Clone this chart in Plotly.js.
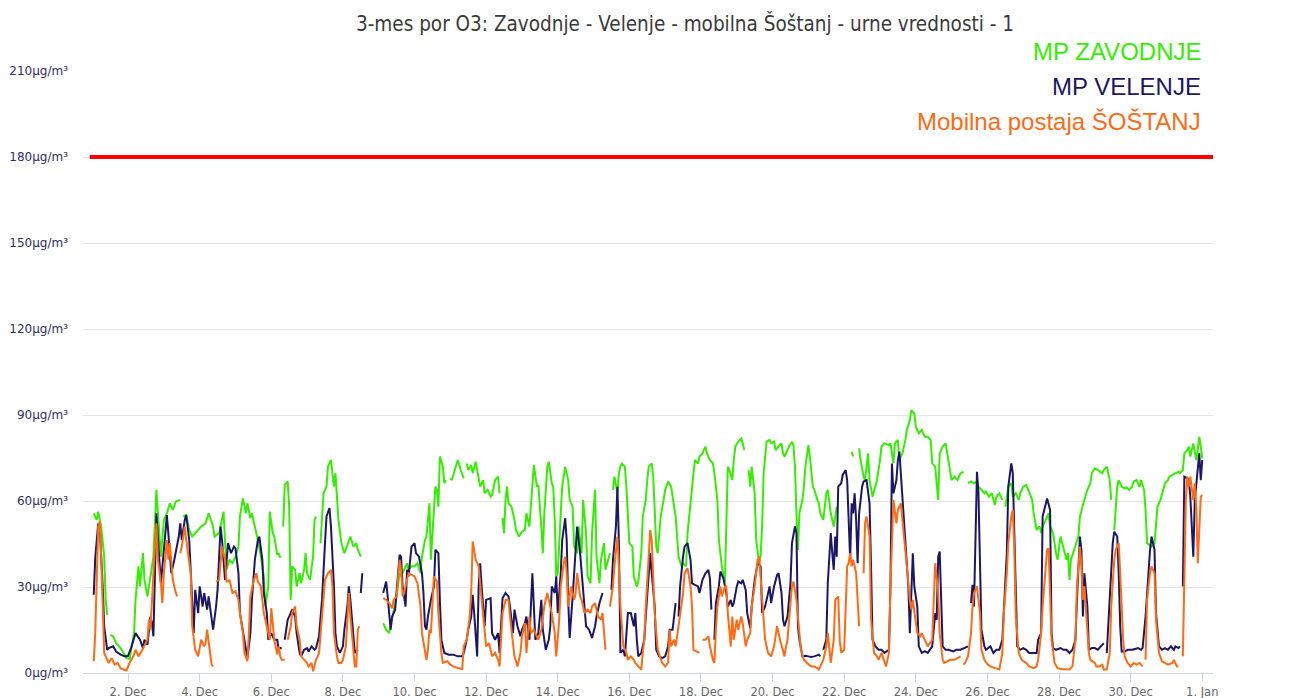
<!DOCTYPE html>
<html>
<head>
<meta charset="utf-8">
<script src="https://cdn.plot.ly/plotly-3.0.1.min.js"></script>
<style>html,body{margin:0;padding:0;background:#fff;}#chart{width:1290px;height:698px;}</style>
</head>
<body>
<div id="chart"></div>
<script>
// ---- data (hour offset from 1 Dec 00:00, hourly O3 value in µg/m³; null = missing) ----
const titleText = "3-mes por O3: Zavodnje - Velenje - mobilna Šoštanj - urne vrednosti - 1";
const seriesNames = ["MP ZAVODNJE", "MP VELENJE", "Mobilna postaja ŠOŠTANJ"];
const limitValue = 180;
const yTickValues = [0, 30, 60, 90, 120, 150, 180, 210];
const tickDays = [2, 4, 6, 8, 10, 12, 14, 16, 18, 20, 22, 24, 26, 28, 30, 32];
const tickLabels = ["2. Dec", "4. Dec", "6. Dec", "8. Dec", "10. Dec", "12. Dec", "14. Dec", "16. Dec", "18. Dec", "20. Dec", "22. Dec", "24. Dec", "26. Dec", "28. Dec", "30. Dec", "1. Jan"];

const zavodnje = [[1,55.7],[3,53.4],[4,56.3],[6,51],[8,40.6],[9,25.5],[10,20.3],[11,null],[12,13.3],[14,12.8],[16,10.4],[19,8.7],[21,7],[23,5.2],[25,4.9],[28,13.9],[29,25.5],[31,37.2],[32,30.2],[34,41.8],[35,32.5],[37,26.7],[38,30.2],[40,37.2],[41,40.6],[43,63.9],[44,55.7],[46,40.6],[48,53.4],[50,55.7],[52,59.2],[54,56.9],[56,59.8],[59,60.4],[60,null],[61,54.6],[63,55.1],[65,49.9],[67,47.6],[70,49.3],[73,51.1],[76,52.2],[78,55.7],[81,51.1],[82,47.6],[85,48.8],[88,56.3],[90,36],[92,39.5],[94,38.3],[96,40.6],[98,44.1],[99,54.6],[101,60.9],[103,55.7],[104,59.2],[106,54],[107,55.7],[109,51.1],[111,46.4],[113,40.6],[115,33.7],[116,23.2],[118,30.2],[119,56.3],[121,48.8],[122,47.6],[124,41.2],[125,41.8],[126,40.1],[127,null],[128,51.1],[129,65.6],[131,66.8],[132,58],[133,25.5],[134,37.2],[136,36],[137,30.2],[139,34.8],[140,31.3],[142,36],[143,41.8],[144,34.8],[146,32.5],[148,40.6],[149,53.4],[150,54.6],[151,null],[153,45.3],[155,62.7],[157,65],[158,72],[160,74.3],[162,65],[163,69.7],[165,53.4],[167,45.3],[169,41.8],[173,47.6],[175,44.1],[177,45.3],[178,43],[180,40.6],[181,null],
[195,17.4],[197,15.1],[199,13.9],[201,18.6],[202,20.9],[204,26.7],[206,34.8],[207,33.7],[209,36],[211,38.3],[212,36],[214,37.2],[216,37.2],[218,38.3],[220,34.8],[221,40.6],[223,46.4],[224,47.6],[226,59.2],[227,39.5],[229,56.9],[230,65],[231,63.9],[232,58],[233,75.5],[235,72],[236,66.2],[237,67.3],[238,null],[240,67.9],[241,67.3],[243,70.8],[245,74.3],[247,70.8],[249,67.9],[250,null],[251,73.1],[252,70.8],[254,72.6],[255,69.7],[257,73.7],[259,67.3],[260,65],[262,67.3],[263,62.7],[265,63.9],[267,61.5],[268,62.1],[270,67.3],[272,68.5],[273,62.7],[274,null],[275,54],[276,48.8],[277,60.4],[278,65],[279,59.2],[281,58],[283,53.4],[284,49.9],[286,47.6],[288,49.3],[290,49.9],[291,55.7],[293,51.1],[295,67.3],[296,72.6],[298,65],[299,65.6],[301,51.1],[302,41.8],[303,55.7],[305,72],[306,73.7],[308,66.2],[309,65],[310,53.4],[311,33.7],[312,34.8],[314,55.7],[315,65],[317,72],[319,67.3],[320,60.4],[322,58],[323,44.1],[325,41.8],[326,51.1],[328,41.8],[329,60.4],[331,48.8],[332,33.7],[334,31.3],[335,48.8],[337,63.9],[338,40.6],[340,31.3],[341,39.5],[343,45.3],[344,36],[346,40.6],[347,41.8],[348,null],[349,63.9],[350,68.5],[352,62.7],[353,69.7],[354,72],[355,73.1],[357,72],[358,65],[360,45.3],[362,44.1],[363,33.7],[365,30.2],[366,31.9],[368,41.8],[369,54.6],[371,60.4],[372,67.3],[373,72],[375,73.1],[376,68.5],[377,56.9],[378,44.1],[379,41.8],[381,54.6],[383,60.4],[384,63.9],[386,66.8],[388,65],[389,61.5],[391,54.6],[393,40.6],[395,37.2],[396,38.3],[398,37.2],[399,48.8],[401,60.4],[403,69.7],[404,74.3],[406,73.1],[407,75.5],[409,76.6],[411,79],[412,76.6],[414,74.3],[416,73.1],[417,69.7],[419,60.4],[420,46.4],[422,37.2],[424,31.3],[425,48.8],[426,72],[427,70.8],[429,67.3],[430,74.3],[431,79],[433,80.7],[435,81.8],[436,80.1],[437,77.8],[439,null],[440,70.8],[441,65],[442,72],[444,62.7],[445,46.4],[447,38.3],[448,41],[449,51.1],[450,69.7],[452,80.7],[454,81.3],[455,80.1],[457,80.7],[458,77.8],[460,79],[462,80.1],[463,76.6],[464,75.5],[467,79],[469,80.7],[470,79.5],[471,72],[472,55.7],[473,42.9],[474,55.7],[476,60.4],[477,65],[478,72],[480,79.5],[481,75.5],[483,65],[484,63.9],[486,60.4],[487,59.2],[488,55.7],[490,53.4],[492,62.7],[493,63.9],[495,55.7],[496,53.4],[497,51.1],[499,58],[500,null],[509,77.2],[510,75.5],[511,null],[514,78.4],[515,74.3],[517,68.5],[518,67.3],[520,76.6],[521,67.3],[523,61.5],[525,65],[526,67.3],[528,74.3],[529,79],[531,80.1],[534,79.5],[535,80.1],[537,73.1],[538,80.1],[540,81.3],[541,74.3],[543,76.6],[545,81.3],[546,84.8],[548,88.2],[549,91.7],[551,90.6],[552,85.9],[554,83.6],[556,84.8],[558,82.4],[560,82.4],[562,81.3],[563,73.1],[565,72],[567,60.4],[568,76.6],[570,79],[572,80.1],[573,76.6],[575,69.7],[576,67.3],[578,68.5],[580,67.3],[582,69.7],[584,70.2],[586,null],[587,66.2],[589,66.8],[591,66.2],[593,66.8],[594,65],[596,63.9],[598,62.7],[599,63.3],[601,61.5],[603,62.7],[605,58.6],[606,61.5],[608,62.7],[610,60.4],[611,null],[612,58],[614,65],[616,66.2],[617,61.5],[619,62.7],[621,60.4],[622,62.7],[624,65],[626,65.6],[628,62.7],[630,60.4],[631,55.7],[633,49.9],[635,51.1],[636,48.8],[637,51.1],[639,53.4],[641,55.7],[642,51.1],[644,48.8],[646,41.8],[647,39.5],[649,47.6],[650,45.3],[652,41.8],[653,39.5],[654,41.8],[655,32.5],[656,39.5],[658,43],[659,44.1],[661,47.6],[662,54.6],[664,59.2],[665,60.4],[667,63.9],[669,66.2],[670,69.7],[672,71.4],[674,70.8],[676,70.2],[677,69.7],[678,70.8],[680,72],[682,67.3],[683,60.4],[684,null],[685,49.9],[687,65],[688,67.3],[690,65],[692,64.4],[693,64.8],[695,63.9],[697,65],[698,66.8],[700,67.3],[702,65],[703,67.3],[705,63.9],[706,56.9],[707,45.3],[710,44.1],[712,45.3],[714,58],[716,60.4],[717,62.7],[719,66.2],[721,67.3],[722,68.5],[724,69.1],[726,69.7],[728,70.2],[729,69.7],[731,70.8],[732,76.6],[734,77.8],[735,79],[736,75.5],[738,80.1],[740,74.3],[741,77.8],[742,82.4],[743,79],[744,74.9]];

const velenje = [[1,27.3],[2,40.1],[4,52.2],[5,51.1],[7,30.2],[8,16.3],[10,8.1],[11,8.7],[14,9.3],[16,7.5],[19,6.4],[22,5.8],[24,6.0],[26,8.7],[29,13.9],[32,11.6],[34,8.7],[35,11.6],[37,9.9],[39,19.7],[40,17.4],[41,12.8],[43,55.7],[45,39.5],[46,31.3],[49,48.8],[50,55.1],[51,48.8],[53,34.8],[55,39.5],[58,47.6],[59,52.2],[60,46.4],[62,53.4],[63,55.1],[65,46.4],[67,25.5],[68,13.9],[69,29.0],[71,20.9],[72,30.2],[74,23.2],[75,27.9],[77,22.1],[78,26.7],[80,18.6],[81,15.1],[83,23.2],[84,29.0],[86,51.1],[87,46.4],[89,32.5],[91,45.3],[93,41.8],[95,44.1],[96,43.5],[98,34.8],[99,20.9],[101,13.9],[103,7.0],[104,5.2],[106,13.9],[107,25.5],[109,39.5],[111,46.4],[112,47.6],[114,39.5],[115,27.9],[117,20.9],[118,11.6],[120,13.9],[122,11.6],[124,11.6],[125,8.1],[126,8.7],[127,8.7],[128,null],[129,11.6],[131,18.6],[133,20.9],[134,22.1],[136,19.7],[137,13.9],[139,7.0],[140,5.8],[142,8.1],[144,8.7],[145,7.5],[147,9.3],[149,8.1],[150,8.7],[152,12.8],[154,25.5],[156,45.3],[157,54.6],[159,57.5],[160,51.1],[162,30.2],[163,13.9],[164,9.3],[166,7.0],[168,9.3],[169,15.1],[171,23.2],[172,30.2],[173,25.5],[175,13.9],[176,7.0],[178,8.1],[179,null],[180,27.9],[181,34.8],[182,null],
[195,27.9],[197,31.9],[198,26.7],[200,15.1],[201,19.7],[203,22.1],[205,34.8],[206,41.2],[207,40.6],[208,30.2],[210,23.2],[211,36],[212,33.7],[214,44.1],[216,45.3],[217,41.8],[219,40.6],[221,34.8],[222,27.9],[223,16.3],[224,15.1],[225,19.7],[227,25.5],[229,30.2],[230,43],[232,41.8],[233,25.5],[234,11.6],[236,7],[239,6.4],[242,6.4],[245,5.8],[248,5.8],[249,7],[251,11.6],[252,15.1],[254,19.7],[255,27.3],[256,20.9],[258,5.8],[259,30.2],[260,38.3],[261,30.2],[263,16.3],[264,25.5],[267,26.1],[268,13.9],[270,11.6],[272,13.9],[273,7],[275,26.1],[277,27.9],[279,26.7],[280,23.2],[282,13.9],[283,22.1],[285,16.3],[287,12.8],[288,15.1],[290,17.4],[291,19.7],[293,11.6],[295,34.8],[296,23.2],[297,11.6],[299,13.9],[301,25.5],[302,15.1],[304,8.1],[306,11.6],[307,16.3],[308,30.2],[310,27.9],[311,33.7],[312,20.9],[314,34.8],[315,46.4],[317,54],[318,46.4],[319,25.5],[320,12.2],[322,26.7],[324,44.1],[325,51.1],[327,41.8],[328,34.8],[330,20.9],[331,16.3],[333,15.1],[335,12.2],[337,16.3],[338,19.7],[340,24.4],[342,27.9],[343,null],[348,29],[349,39.5],[351,51.1],[352,65],[353,45.3],[354,7],[356,8.1],[357,5.8],[359,20.9],[361,20.9],[363,16.3],[364,20.9],[365,11.6],[366,5.8],[368,7],[370,11.6],[371,19.7],[373,34.8],[374,41.8],[375,34.8],[377,23.2],[378,8.1],[380,5.8],[382,5.2],[384,5.8],[386,9.3],[387,15.1],[389,15.1],[390,20.9],[391,24.4],[392,null],[393,19.7],[394,30.2],[396,40.6],[397,44.1],[399,45.3],[401,39.5],[402,31.3],[404,30.8],[406,30.2],[407,27.9],[409,32.5],[411,34.8],[413,36],[414,33],[415,22.1],[416,null],[417,11.6],[418,24.4],[420,30.2],[421,35.4],[423,33.1],[425,27.9],[426,23.2],[428,25.5],[429,23.2],[430,24.4],[432,30.2],[433,31.9],[435,31.3],[436,32.5],[438,29],[439,20.9],[441,15.6],[442,23.2],[444,32.5],[446,38.3],[448,37.2],[449,20.9],[451,23.2],[452,25.5],[454,30.2],[455,24.4],[457,30.2],[459,34.2],[460,34.8],[462,27.9],[463,18.6],[464,16.3],[466,19.7],[468,31.3],[469,45.3],[471,51.1],[472,48.8],[473,16.3],[474,11.6],[476,5.8],[478,6.0],[480,5.8],[482,5.6],[484,5.8],[487,6.4],[488,5.8],[489,null],[490,8.1],[492,11.6],[493,31.3],[495,48.8],[496,41.8],[497,36],[498,47.6],[499,40.6],[500,65],[502,66.2],[503,69.1],[505,70.8],[506,67.3],[507,51.1],[508,39.5],[509,59.2],[510,55.7],[511,62.7],[512,53.4],[513,38.3],[514,55.7],[516,65],[517,66.8],[519,67.3],[521,59.2],[522,37.2],[523,11.6],[525,9.3],[527,8.1],[529,8.1],[531,7],[534,8.1],[535,30.2],[536,73.1],[537,62.7],[539,67.3],[540,74.3],[541,77.2],[543,62.7],[544,53.4],[545,46.4],[547,30.2],[548,13.9],[549,25.5],[550,41.8],[551,30.2],[553,23.2],[554,9.3],[556,7],[558,7.6],[560,7],[563,9.3],[565,20.9],[566,18.6],[567,40.6],[568,42.4],[569,22.1],[570,9.3],[572,8.1],[574,8.1],[577,7.5],[579,8.1],[582,8.1],[585,8.7],[587,9.3],[588,null],[589,24.4],[590,30.8],[591,23.2],[592,43],[593,70.2],[594,62.7],[595,37.2],[596,15.1],[598,9.3],[599,8.1],[602,9.3],[604,7],[606,8.1],[608,8.1],[610,11.6],[611,23.2],[613,41.8],[614,65],[616,73.1],[617,69.7],[618,51.1],[620,9.3],[622,8.1],[624,8.7],[626,8.1],[628,7],[631,7],[633,7],[634,11.6],[636,13.9],[637,54.6],[639,59.2],[640,60.9],[642,56.9],[643,13.9],[644,8.7],[646,8.1],[649,8.7],[651,8.1],[653,8.1],[655,7],[657,8.1],[659,11.6],[660,25.5],[662,47.6],[663,42.9],[664,19.7],[665,34.8],[667,23.2],[668,8.1],[670,8.7],[672,8.7],[674,8.1],[676,9.3],[678,10.4],[679,null],[680,7],[681,16.3],[683,34.8],[684,45.3],[685,49.3],[687,47.6],[688,34.8],[689,16.3],[690,7.5],[692,7.5],[694,8.1],[697,8.1],[699,8.4],[701,8.7],[703,8.1],[704,8.7],[706,19.7],[708,38.3],[709,43],[710,47.6],[712,43],[713,20.9],[715,9.3],[717,8.1],[719,8.7],[721,8.1],[723,9.3],[725,8.1],[726,9.3],[728,8.7],[729,9.3],[730,null],[731,30.2],[732,68.5],[734,67.9],[735,67.3],[736,61.5],[738,40.6],[739,60.4],[740,66.2],[741,72],[742,76.6],[743,67.3],[744,74.3]];

const sostanj = [[1,4.1],[2,13.9],[4,51.1],[5,52.8],[6,40.6],[8,7.0],[9,5.8],[10,4.6],[11,3.5],[13,5.2],[15,2.9],[17,3.5],[19,1.7],[21,1.2],[23,0.9],[25,3.5],[28,6.4],[29,8.1],[31,5.8],[33,7.5],[35,9.3],[37,11.6],[38,18.6],[39,15.1],[41,34.8],[43,52.2],[44,39.5],[46,31.3],[47,24.4],[48,34.8],[50,46.4],[51,39.5],[52,45.3],[54,32.5],[56,27.9],[57,26.7],[58,null],[59,41.8],[60,44.1],[61,47.6],[62,51.1],[63,46.4],[66,34.8],[67,16.3],[69,8.1],[71,5.8],[73,11.6],[75,9.3],[76,10.4],[77,15.1],[79,8.1],[80,2.9],[81,2.3],[82,null],[83,31.9],[85,32.5],[87,44.1],[89,39.5],[90,31.9],[91,31.9],[92,32.5],[94,27.9],[96,28.5],[98,25.5],[99,20.9],[101,13.9],[102,7.0],[104,4.1],[105,13.9],[106,26.7],[108,31.9],[110,34.8],[111,31.9],[113,30.2],[115,20.9],[116,18.6],[118,13.9],[119,11.6],[120,22.6],[121,16.3],[122,11.6],[124,6.4],[125,9.3],[126,5.8],[127,4.6],[129,4.6],[130,null],[131,11.6],[133,16.3],[134,20.9],[136,23.2],[137,16.3],[139,11.6],[140,5.8],[142,4.6],[144,3.5],[145,2.3],[147,3.5],[148,0.6],[150,4.6],[152,7.0],[153,13.9],[155,25.5],[156,32.5],[158,34.8],[160,36],[161,30.2],[162,13.9],[164,5.8],[165,3.5],[167,3.5],[168,4.6],[170,9.3],[171,19.7],[172,27.9],[173,19.7],[175,7.0],[176,2.3],[177,2.3],[178,15.1],[179,16.3],[180,null],
[195,26.1],[197,25.5],[199,24.4],[201,22.6],[202,25.5],[204,26.7],[206,39.5],[207,36],[208,26.7],[210,30.2],[212,34.8],[214,34.2],[216,33.7],[218,31.3],[220,23.2],[221,13.9],[223,8.1],[224,4.6],[225,8.1],[226,15.1],[227,13.9],[229,33.7],[231,31.9],[232,20.9],[234,7],[235,3.5],[238,4.1],[240,2.9],[242,2.3],[245,1.7],[248,1.4],[249,9.3],[251,11.6],[253,19.7],[254,27.9],[255,45.9],[257,39.5],[258,38.3],[259,37.2],[261,25.5],[263,13.9],[264,9.3],[266,10.4],[268,5.8],[270,7],[272,4.6],[273,2.3],[275,20.9],[277,25.5],[279,25.5],[280,19.7],[282,9.3],[283,5.8],[285,2.3],[287,7],[288,12.8],[290,17.4],[291,7],[293,19.7],[294,13.9],[296,15.1],[297,13.9],[299,11.6],[301,15.1],[303,23.2],[305,27.9],[306,25.5],[308,20.9],[310,13.9],[311,5.8],[313,18.6],[314,30.2],[316,38.3],[317,40.6],[318,34.8],[319,23.2],[321,30.2],[323,25.5],[324,27.9],[325,34.8],[327,26.7],[328,25.5],[330,20.9],[332,22.1],[334,20.9],[335,23.2],[337,24.4],[339,19.7],[341,18.6],[342,20.9],[344,8.1],[345,null],[347,23.2],[349,30.2],[350,37.2],[352,47.6],[353,37.2],[354,23.2],[356,9.3],[358,7],[359,4.6],[361,5.8],[363,4.6],[364,3.5],[366,2.3],[368,1.2],[369,7],[370,11.6],[371,23.2],[373,43],[374,49.9],[375,46.4],[376,34.8],[377,20.9],[379,8.1],[381,4.6],[382,3.5],[384,2.3],[386,3.5],[387,15.1],[388,9.3],[390,11.6],[391,9.3],[392,12.8],[394,20.9],[396,27.9],[397,34.8],[399,36.6],[401,30.2],[402,23.2],[403,8.1],[405,7.5],[407,7],[408,null],[409,11.6],[411,11.6],[413,12.8],[414,9.3],[416,4.6],[417,3.5],[418,15.1],[419,23.2],[421,30.2],[422,26.7],[424,30.2],[425,30.2],[426,20.9],[428,9.3],[429,19.7],[430,11.6],[432,18.6],[433,15.1],[435,19.7],[436,17.4],[438,9.3],[439,11.6],[441,13.9],[442,23.2],[444,30.2],[446,39.5],[447,40.6],[448,33.7],[450,19.7],[451,11.6],[453,7],[455,5.8],[457,9.3],[458,13.9],[459,16.3],[461,11.6],[463,7],[464,5.8],[465,9.3],[466,11.6],[468,24.4],[469,30.2],[470,31.9],[472,25.5],[473,19.7],[475,8.1],[477,4.6],[479,3.5],[482,2.3],[484,2.3],[486,1.7],[487,1.2],[488,2.3],[490,4.6],[492,9.3],[493,13.9],[495,3.5],[497,11.6],[498,25.5],[500,26.7],[501,11.6],[502,7],[504,8.1],[506,37.2],[507,38.3],[508,41.8],[509,37.2],[510,39.5],[512,34.8],[513,25.5],[514,16.3],[515,null],[517,34.8],[518,52.2],[519,54.6],[520,51.1],[521,47.6],[522,18.6],[524,7],[526,5.8],[527,4.6],[529,7],[531,3.5],[532,2.3],[534,7],[535,30.2],[537,60.4],[538,56.9],[539,52.2],[540,56.9],[542,59.2],[543,53.4],[545,44.1],[546,37.2],[548,25.5],[549,22.1],[550,25.5],[552,16.3],[553,13.9],[555,12.8],[556,13.9],[558,11.6],[560,9.3],[563,11.6],[564,27.9],[565,38.3],[567,27.9],[568,13.9],[570,4.6],[571,3.5],[575,4.6],[578,4.6],[580,5.2],[582,5.8],[583,null],[584,2.9],[585,3.5],[587,5.8],[589,13.9],[590,23.2],[591,27.9],[593,30.2],[594,25.5],[595,20.9],[596,8.1],[598,4.6],[600,3.0],[602,2.3],[605,1.7],[607,1.2],[608,1.2],[610,7],[611,20.9],[613,34.8],[614,45.3],[616,54.6],[617,56.9],[618,44.1],[619,19.7],[621,7],[623,4.6],[626,3.5],[628,2.3],[631,1.7],[633,2.3],[634,4.6],[636,13.9],[637,23.2],[639,37.2],[640,43],[641,43.5],[642,29],[643,11.6],[645,3.5],[647,1.7],[650,1.4],[653,1.2],[655,1.2],[657,2.3],[659,11.6],[660,30.2],[662,44.1],[663,37.2],[664,25.5],[665,30.2],[667,16.3],[668,7],[669,4.6],[672,3.5],[673,2.3],[675,2.3],[677,2.9],[678,1.2],[680,1.2],[682,7],[683,23.2],[685,39.5],[686,43],[688,45.3],[689,34.8],[691,11.6],[692,5.8],[694,3.5],[696,2.3],[698,3.5],[700,2.9],[702,3.5],[704,2.3],[705,null],[706,4.6],[707,25.5],[709,34.8],[710,37.2],[712,34.8],[713,18.6],[715,7],[717,4.1],[719,3.5],[721,2.9],[724,3.5],[725,4.6],[727,2.3],[728,2.3],[729,null],[731,5.8],[732,30.2],[733,60.4],[734,68.5],[735,65],[736,68.5],[738,60.4],[739,66.2],[740,58],[741,38.3],[742,51.1],[743,61.5],[744,62.1]];

// ---- helpers ----
const BASE = Date.UTC(2016, 11, 1);
function hToDate(h) {
  return new Date(BASE + h * 3600000).toISOString().replace('T', ' ').slice(0, 19);
}
function toTrace(pairs, name, color) {
  const sorted = pairs.slice().sort((a, b) => a[0] - b[0]);
  return {
    type: 'scatter', mode: 'lines', name: name,
    x: sorted.map(p => hToDate(p[0])),
    y: sorted.map(p => p[1]),
    connectgaps: false,
    line: { color: color, width: 2 },
    hoverinfo: 'skip'
  };
}

const colors = ['#33ee00', '#1b1766', '#ff6a13'];
const traces = [
  toTrace(zavodnje, seriesNames[0], colors[0]),
  toTrace(velenje, seriesNames[1], colors[1]),
  toTrace(sostanj, seriesNames[2], colors[2])
];

const yTickText = yTickValues.map(v => v + 'μg/m³');
const xTickVals = tickDays.map(d => hToDate((d - 1) * 24));

const legendY = [1.032, 0.974, 0.916];
const annotations = seriesNames.map((n, i) => ({
  text: n, xref: 'paper', yref: 'paper', x: 0.991, y: legendY[i],
  xanchor: 'right', yanchor: 'middle', showarrow: false,
  font: { family: 'Liberation Sans, Arial, sans-serif', size: 24, color: colors[i] }
}));

const tickFontFamily = 'DejaVu Sans, Verdana, sans-serif';

const layout = {
  width: 1290, height: 698,
  margin: { l: 83, r: 77, t: 71, b: 25 },
  paper_bgcolor: '#ffffff', plot_bgcolor: '#ffffff',
  showlegend: false,
  title: {
    text: titleText, xref: 'container', yref: 'container',
    x: 0.531, xanchor: 'center', y: 0.966, yanchor: 'middle',
    font: { family: 'DejaVu Sans Condensed, DejaVu Sans, sans-serif', size: 20.5, color: '#3a3a3a' }
  },
  xaxis: {
    type: 'date', range: [hToDate(-6.2), hToDate(751.2)],
    tickmode: 'array', tickvals: xTickVals, ticktext: tickLabels,
    tickfont: { family: tickFontFamily, size: 11.5, color: '#666666' },
    showgrid: false, zeroline: false, showline: true, linecolor: '#ccd6eb', linewidth: 1,
    ticks: 'outside', ticklen: 8, tickcolor: '#ccd6eb'
  },
  yaxis: {
    range: [0, 210], tickmode: 'array', tickvals: yTickValues, ticktext: yTickText,
    tickfont: { family: tickFontFamily, size: 12, color: '#2e2e66' },
    gridcolor: '#e6e6e6', gridwidth: 1, zeroline: false, showline: false,
    ticklabelstandoff: 14
  },
  yaxis2: {
    overlaying: 'y', side: 'right', anchor: 'x',
    range: [0, 210], tickmode: 'array', tickvals: yTickValues, ticktext: yTickText,
    tickfont: { family: tickFontFamily, size: 12, color: '#77e51e' },
    showgrid: false, zeroline: false, showline: false,
    ticklabelstandoff: 16
  },
  shapes: [{
    type: 'line', xref: 'paper', x0: 0.006, x1: 1, yref: 'y', y0: limitValue, y1: limitValue,
    line: { color: '#ff0000', width: 4 }, layer: 'above'
  }],
  annotations: annotations
};

Plotly.newPlot('chart', traces, layout, { displayModeBar: false, staticPlot: true });
</script>
</body>
</html>
